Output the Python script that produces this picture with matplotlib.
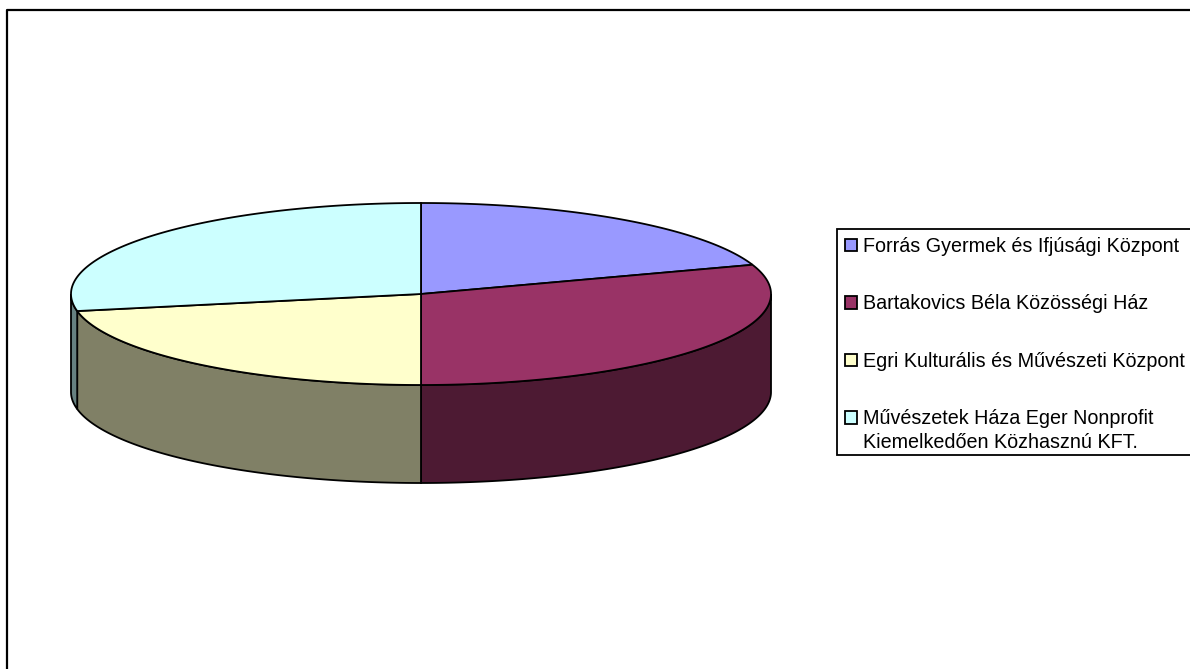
"""3D-looking pie of four Eger cultural institutions, Excel style."""

import matplotlib

matplotlib.use("Agg")
import matplotlib.pyplot as plt
import numpy as np
from matplotlib.patches import Patch, Rectangle

plt.rcParams["font.family"] = ["Liberation Sans", "DejaVu Sans"]

labels = [
    "Forrás Gyermek és Ifjúsági Központ",
    "Bartakovics Béla Közösségi Ház",
    "Egri Kulturális és Művészeti Központ",
    "Művészetek Háza Eger Nonprofit",
]
last_label_line2 = "Kiemelkedően Közhasznú KFT."
values = [19.8, 30.2, 22.0, 28.0]
top_colors = ["#9999FF", "#993366", "#FFFFCC", "#CCFFFF"]
side_colors = ["#4D4D80", "#4D1A33", "#808066", "#668080"]

WIDTH, HEIGHT = 1190, 669
CX, CY = 421, 294
RX, RY = 350, 91
DEPTH = 98
FONT_SIZE = 14.2


def arc(start, stop, drop=0.0):
    """Points on the ellipse, angles in degrees clockwise from 12 o'clock."""
    t = np.radians(np.linspace(start, stop, max(int(abs(stop - start)) * 2, 2)))
    return CX + RX * np.sin(t), CY - RY * np.cos(t) + drop


fig = plt.figure(figsize=(WIDTH / 100, HEIGHT / 100), dpi=100)
ax = fig.add_axes([0, 0, 1, 1])
ax.set_xlim(0, WIDTH)
ax.set_ylim(HEIGHT, 0)
ax.axis("off")

# chart frame, only left and top fall inside the image
ax.plot([6.5, 6.5, WIDTH + 5], [HEIGHT + 5, 9.5, 9.5], color="black", lw=1.6, clip_on=False)

edges = np.cumsum([0.0] + values) / sum(values) * 360

# side walls first, only the front half of the rim shows
for i in range(len(values)):
    start, stop = max(edges[i], 90), min(edges[i + 1], 270)
    if stop <= start:
        continue
    x, y = arc(start, stop)
    xb, yb = arc(start, stop, DEPTH)
    ax.fill(
        np.r_[x, xb[::-1]],
        np.r_[y, yb[::-1]],
        facecolor=side_colors[i],
        edgecolor="black",
        lw=1.3,
    )

# top face
for i in range(len(values)):
    x, y = arc(edges[i], edges[i + 1])
    ax.fill(
        np.r_[CX, x],
        np.r_[CY, y],
        facecolor=top_colors[i],
        edgecolor="black",
        lw=1.3,
    )

# legend box runs off the right side of the image, so it is drawn separately
ax.add_patch(Rectangle((837, 229), 400, 226, facecolor="white", edgecolor="black", lw=1.3))

handles = [Patch(facecolor=c, edgecolor="black", lw=1.3) for c in top_colors]
leg = ax.legend(
    handles,
    labels,
    loc="upper left",
    bbox_to_anchor=(837, 229),
    bbox_transform=ax.transData,
    fontsize=FONT_SIZE,
    frameon=False,
    borderpad=0.4,
    borderaxespad=0,
    labelspacing=1.95,
    handlelength=0.62,
    handleheight=0.6,
    handletextpad=0.3,
)

# second line of the last entry, the marker stays level with the first line
ax.text(863, 448, last_label_line2, fontsize=FONT_SIZE, ha="left", va="baseline")

fig.savefig("out.png", dpi=100)
